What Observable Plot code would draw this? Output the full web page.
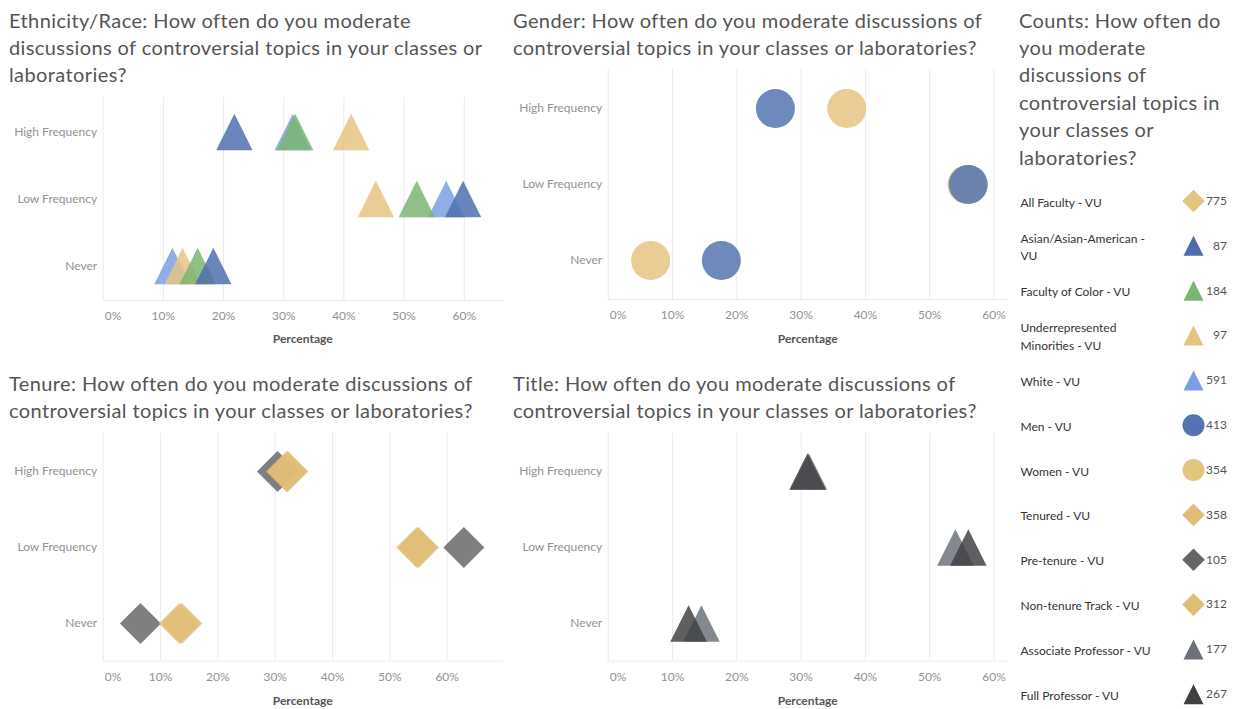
<!DOCTYPE html>
<html><head><meta charset="utf-8">
<script src="https://cdn.jsdelivr.net/npm/d3@7"></script>
<script src="https://cdn.jsdelivr.net/npm/@observablehq/plot@0.6"></script>
<style>
body{margin:0;background:#fff;}
#root{position:relative;width:1238px;height:709px;overflow:hidden;font-family:Lato,"Open Sans",sans-serif;background:#fff;}
.title{position:absolute;font-size:20px;letter-spacing:0.4px;line-height:27px;color:#555;white-space:nowrap;}
</style></head><body><div id="root"></div>
<script>
// ---------- data ----------
const frequencies = ["High Frequency", "Low Frequency", "Never"];

const ethnicityGroups = ["White - VU", "Underrepresented Minorities - VU", "Faculty of Color - VU", "Asian/Asian-American - VU"];
const ethnicityPct = [
  [31.5, 57.0, 11.5],
  [41.2, 45.3, 13.2],
  [31.9, 52.1, 15.7],
  [21.8, 59.8, 18.3]
];

const genderGroups = ["Women - VU", "Men - VU"];
const genderPct = [
  [37.1, 55.8, 6.6],
  [26.0, 56.0, 17.6]
];

const tenureGroups = ["Pre-tenure - VU", "Tenured - VU", "Non-tenure Track - VU"];
const tenurePct = [
  [30.4, 62.9, 6.5],
  [32.2, 54.7, 13.3],
  [32.0, 55.0, 13.7]
];

const titleGroups = ["Associate Professor - VU", "Full Professor - VU"];
const titlePct = [
  [31.2, 54.0, 14.5],
  [31.0, 56.0, 12.5]
];

const tickValues = [0, 10, 20, 30, 40, 50, 60];

const legendLabels = ["All Faculty - VU", "Asian/Asian-American - VU", "Faculty of Color - VU",
  "Underrepresented Minorities - VU", "White - VU", "Men - VU", "Women - VU", "Tenured - VU",
  "Pre-tenure - VU", "Non-tenure Track - VU", "Associate Professor - VU", "Full Professor - VU"];
const legendCounts = [775, 87, 184, 97, 591, 413, 354, 358, 105, 312, 177, 267];
const legendShapes = ["diamond", "triangle", "triangle", "triangle", "triangle", "circle", "circle",
  "diamond", "diamond", "diamond", "triangle", "triangle"];

// ---------- styles ----------
const palette = ["#e5c47f", "#4e6eab", "#79b56f", "#e5c47f", "#7a9fe3", "#5274b0", "#e5c47f",
  "#e0bd77", "#666666", "#e0bd77", "#6d7179", "#404043"];

const triangle = {draw(ctx, size) { const r = Math.sqrt(size / Math.PI); ctx.moveTo(0, -r); ctx.lineTo(r, r); ctx.lineTo(-r, r); ctx.closePath(); }};
const diamond = {draw(ctx, size) { const r = Math.sqrt(size / Math.PI); ctx.moveTo(0, -r); ctx.lineTo(r, 0); ctx.lineTo(0, r); ctx.lineTo(-r, 0); ctx.closePath(); }};
const circle = {draw(ctx, size) { const r = Math.sqrt(size / Math.PI); ctx.moveTo(r, 0); ctx.arc(0, 0, r, 0, 2 * Math.PI); ctx.closePath(); }};
const shapes = {triangle, diamond, circle};

const root = document.getElementById("root");

function place(el, left, top) {
  el.style.position = "absolute";
  el.style.left = left + "px";
  el.style.top = top + "px";
  root.appendChild(el);
}

function addTitle(lines, left, top, lh) {
  const d = document.createElement("div");
  d.className = "title";
  d.innerHTML = lines.join("<br>");
  if (lh) d.style.lineHeight = lh + "px";
  place(d, left, top);
}

function panel({groups, pct, symbol, r, xMax, width, height, mt, mb, labelDy}) {
  const data = groups.flatMap((g, gi) => frequencies.map((f, fi) => ({group: g, freq: f, pct: pct[gi][fi]})));
  return Plot.plot({
    width, height,
    marginTop: mt, marginBottom: mb, marginLeft: 102.7, marginRight: 3.3,
    style: {fontFamily: "Lato, 'Open Sans', sans-serif", fontSize: "12px", color: "#929292", background: "transparent", overflow: "visible"},
    x: {domain: [0, xMax], label: null},
    y: {type: "band", domain: frequencies, padding: 0, label: null},
    color: {domain: legendLabels, range: palette},
    marks: [
      Plot.gridX(tickValues, {stroke: "#ebebeb", strokeOpacity: 1}),
      Plot.frame({anchor: "bottom", stroke: "#ebebeb"}),
      Plot.axisY({tickSize: 0, tickPadding: 6, fontSize: 12, label: null}),
      Plot.axisX([0], {tickSize: 0, tickPadding: 11, tickFormat: d => d + "%", textAnchor: "start", dx: 1.5, fontSize: 12, label: null}),
      Plot.axisX(tickValues.slice(1), {tickSize: 0, tickPadding: 11, tickFormat: d => d + "%", fontSize: 12, label: null}),
      Plot.dot(data, {x: "pct", y: "freq", fill: "group", symbol, r, fillOpacity: 0.84}),
      Plot.text(["Percentage"], {frameAnchor: "bottom", dy: labelDy, fill: "#555", fontWeight: "bold", fontSize: 12})
    ]
  });
}

// ---------- titles ----------
addTitle(["Ethnicity/Race: How often do you moderate", "discussions of controversial topics in your classes or", "laboratories?"], 9, 6.5);
addTitle(["Gender: How often do you moderate discussions of", "controversial topics in your classes or laboratories?"], 513, 6.5);
addTitle(["Tenure: How often do you moderate discussions of", "controversial topics in your classes or laboratories?"], 9, 369.5);
addTitle(["Title: How often do you moderate discussions of", "controversial topics in your classes or laboratories?"], 513, 369.5);
addTitle(["Counts: How often do", "you moderate", "discussions of", "controversial topics in", "your classes or", "laboratories?"], 1019, 6.5, 27.4);

// ---------- panels ----------
place(panel({groups: ethnicityGroups, pct: ethnicityPct, symbol: triangle, r: 18.2, xMax: 66.3,
  width: 505, height: 260, mt: 7, mb: 50, labelDy: 42}), 0, 90);
place(panel({groups: genderGroups, pct: genderPct, symbol: circle, r: 19.5, xMax: 62.05,
  width: 505, height: 290, mt: 9, mb: 51, labelDy: 43}), 505, 60);
place(panel({groups: tenureGroups, pct: tenurePct, symbol: diamond, r: 20.5, xMax: 69.6,
  width: 505, height: 284, mt: 7.7, mb: 48.3, labelDy: 44}), 0, 425);
place(panel({groups: titleGroups, pct: titlePct, symbol: triangle, r: 18.3, xMax: 62.05,
  width: 505, height: 284, mt: 7.7, mb: 48.3, labelDy: 44}), 505, 425);

// ---------- legend ----------
const idx = d3.range(legendLabels.length);
const legendDisplay = legendLabels.map(s => s.replace("Asian-American - ", "Asian-American -\n").replace("Underrepresented ", "Underrepresented\n"));
const legendSize = {diamond: 11.3, triangle: 10, circle: 11};
const legend = Plot.plot({
  width: 228, height: 529, margin: 0,
  style: {fontFamily: "Lato, 'Open Sans', sans-serif", background: "transparent", overflow: "visible"},
  y: {domain: [0, legendLabels.length - 1], range: [20.5, 513.8], axis: null},
  color: {domain: legendLabels, range: palette},
  marks: [
    Plot.text(idx, {y: i => i, text: i => legendDisplay[i], frameAnchor: "left", dx: 10, textAnchor: "start", fill: "#333", fontSize: 12, lineHeight: 1.45}),
    ...["diamond", "triangle", "circle"].map(s =>
      Plot.dot(idx, {filter: i => legendShapes[i] === s, y: i => i, frameAnchor: "left", dx: 183, symbol: shapes[s], r: legendSize[s], fill: i => legendLabels[i]})),
    Plot.text(idx, {y: i => i, text: i => String(legendCounts[i]), frameAnchor: "left", dx: 216.5, textAnchor: "end", fill: "#555", fontSize: 12})
  ]
});
place(legend, 1010, 180);
</script></body></html>
